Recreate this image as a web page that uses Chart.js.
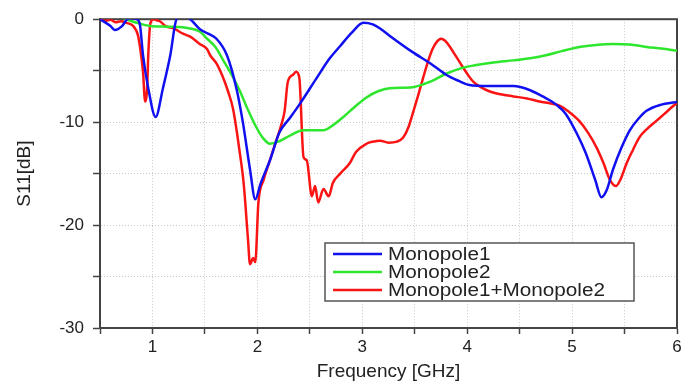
<!DOCTYPE html>
<html>
<head>
<meta charset="utf-8">
<script src="https://cdn.jsdelivr.net/npm/chart.js@4/dist/chart.umd.min.js"></script>
<style>
  html, body { margin: 0; padding: 0; background: #fff; }
  #wrap { width: 695px; height: 386px; }
</style>
</head>
<body>
<div id="wrap"><canvas id="s11-chart" width="695" height="386"></canvas></div>
<script>
/* S11 of the monopoles */

// Monopole1
const freq1 = [0.5, 0.6, 0.64, 0.71, 0.76, 0.8, 0.85, 0.88, 0.91, 0.96, 1.03, 1.10, 1.17, 1.23, 1.3, 1.36,
    1.45, 1.53, 1.61, 1.71, 1.80, 1.86, 1.93, 1.98, 2.03, 2.12, 2.21, 2.31, 2.40, 2.56, 2.69, 2.79,
    2.90, 3.01, 3.10, 3.17, 3.26, 3.48, 3.65, 3.80, 3.92, 4.02, 4.2, 4.44, 4.6, 4.72, 4.85, 4.94,
    5.05, 5.13, 5.22, 5.28, 5.33, 5.39, 5.47, 5.55, 5.63, 5.71, 5.85, 5.96, 6.0];
const s11Mono1 = [0, -0.67, -1.05, -0.67, 0, 0.1, 0, -0.5, -3.5, -6.7, -9.5, -6.7, -3.5, 0, 0.3, 0,
    -0.95, -1.4, -1.9, -3.5, -6.7, -9.9, -14.6, -17.5, -16, -13.7, -11, -9.6, -8.3, -5.8, -3.8, -2.6,
    -1.3, -0.35, -0.5, -0.9, -1.6, -3.2, -4.3, -5.4, -6.0, -6.4, -6.5, -6.5, -6.9, -7.5, -8.3, -9.2,
    -11.2, -13, -15.6, -17.3, -16.6, -14.6, -12.5, -10.8, -9.7, -8.9, -8.3, -8.1, -8.05];

// Monopole2
const freq2 = [0.5, 0.7, 0.75, 0.85, 0.98, 1.1, 1.2, 1.36, 1.45, 1.52, 1.6, 1.67, 1.75, 1.83, 1.91,
    1.99, 2.05, 2.12, 2.2, 2.31, 2.44, 2.55, 2.63, 2.72, 2.82, 2.93, 3.04, 3.15, 3.26, 3.48, 3.64,
    3.80, 3.93, 4.06, 4.25, 4.44, 4.6, 4.75, 4.9, 5.07, 5.23, 5.39, 5.55, 5.71, 5.85, 6.0];
const s11Mono2 = [0.3, 0.2, 0, -0.35, -0.67, -0.72, -0.73, -0.9, -1.2, -1.9, -2.7, -3.9, -5.3, -6.9, -8.8,
    -10.5, -11.5, -12.1, -11.9, -11.3, -10.8, -10.8, -10.8, -10.3, -9.5, -8.5, -7.6, -7.0, -6.7, -6.6, -6.1,
    -5.3, -4.8, -4.5, -4.2, -4.0, -3.8, -3.5, -3.1, -2.7, -2.5, -2.4, -2.45, -2.7, -2.85, -3.05];

// Monopole1+Monopole2
const freq12 = [0.5, 0.55, 0.6, 0.65, 0.7, 0.75, 0.82, 0.86, 0.88, 0.91, 0.93, 0.95, 0.96, 0.98, 1.01,
    1.04, 1.07, 1.13, 1.2, 1.29, 1.36, 1.45, 1.52, 1.55, 1.61, 1.67, 1.72, 1.77, 1.83, 1.87, 1.91,
    1.93, 1.96, 1.98, 2.01, 2.06, 2.12, 2.17, 2.23, 2.26, 2.29, 2.34, 2.37, 2.40, 2.44, 2.47, 2.52,
    2.55, 2.58, 2.63, 2.68, 2.72, 2.79, 2.88, 2.94, 3.04, 3.10, 3.17, 3.25, 3.33, 3.39, 3.44, 3.48,
    3.53, 3.58, 3.63, 3.67, 3.71, 3.75, 3.79, 3.83, 3.88, 3.93, 4.0, 4.06, 4.13, 4.21, 4.32, 4.44,
    4.57, 4.69, 4.8, 4.88, 4.97, 5.07, 5.15, 5.23, 5.3, 5.36, 5.42, 5.46, 5.52, 5.58, 5.64, 5.72,
    5.80, 5.88, 5.98, 6.0];
const s11Mono12 = [0, -0.15, -0.05, -0.3, -0.2, -0.35, -0.7, -1.5, -2.6, -5.1, -8.0, -6.5, -3.5, -0.4, 0,
    -0.1, -0.2, -0.7, -0.9, -1.4, -1.7, -2.4, -2.9, -3.5, -4.3, -5.6, -7.0, -8.8, -12.8, -16, -21.3,
    -23.8, -23.2, -23.6, -17.8, -15.6, -13.7, -12.1, -10.2, -8.9, -6.1, -5.4, -5.1, -5.7, -13.4, -13.7, -17.2,
    -16.2, -17.8, -16.5, -17.2, -15.9, -15.0, -14.0, -12.9, -12.1, -11.9, -11.8, -12.0, -11.9, -11.5, -10.5, -9.2,
    -7.5, -5.7, -4.0, -2.9, -2.2, -1.9, -2.1, -2.6, -3.4, -4.2, -5.3, -6.1, -6.6, -7.0, -7.3, -7.5,
    -7.7, -8.0, -8.2, -8.4, -9.0, -9.9, -11.0, -12.4, -14.0, -15.6, -16.2, -15.6, -14.0, -12.7, -11.5, -10.6,
    -9.9, -9.2, -8.3, -8.2];

const seriesNames = ["Monopole1", "Monopole2", "Monopole1+Monopole2"];
const seriesColors = ['#1010f0', '#2ee62e', '#fa1414'];

function toPoints(xs, ys) {
    return xs.map((x, i) => ({ x: x, y: ys[i] }));
}

const textColor = '#222';
const fontFamily = '"Liberation Sans", Arial, sans-serif';

/* box round the plot, under the curves */
const framePlugin = {
    id: 'frame',
    beforeDatasetsDraw(chart) {
        const a = chart.chartArea, ctx = chart.ctx;
        ctx.save();
        ctx.strokeStyle = '#444';
        ctx.lineWidth = 2;
        ctx.strokeRect(a.left, a.top, a.right - a.left, a.bottom - a.top);
        ctx.restore();
    }
};

/* legend box inside the plot */
const legendPlugin = {
    id: 'boxLegend',
    afterDatasetsDraw(chart) {
        const ctx = chart.ctx;
        const x0 = 325, y0 = 243, w = 309, h = 58;
        ctx.save();
        ctx.fillStyle = '#fff';
        ctx.fillRect(x0, y0, w, h);
        ctx.strokeStyle = '#555';
        ctx.lineWidth = 1.5;
        ctx.strokeRect(x0, y0, w, h);
        ctx.font = '18px ' + fontFamily;
        ctx.textBaseline = 'middle';
        chart.data.datasets.forEach((ds, i) => {
            const y = y0 + 11 + i * 18;
            ctx.strokeStyle = ds.borderColor;
            ctx.lineWidth = 2.5;
            ctx.beginPath();
            ctx.moveTo(x0 + 8, y);
            ctx.lineTo(x0 + 57, y);
            ctx.stroke();
            // the source text is a bit wide, stretch it sideways
            ctx.save();
            ctx.translate(x0 + 63, y + 1);
            ctx.scale(1.15, 1);
            ctx.fillStyle = textColor;
            ctx.fillText(ds.label, 0, 0);
            ctx.restore();
        });
        ctx.restore();
    }
};

const s11Canvas = document.getElementById("s11-chart");

let s11Chart = new Chart(s11Canvas, {
    type: 'line',
    data: {
        datasets: [
            { label: seriesNames[0], data: toPoints(freq1, s11Mono1), borderColor: seriesColors[0] },
            { label: seriesNames[1], data: toPoints(freq2, s11Mono2), borderColor: seriesColors[1] },
            { label: seriesNames[2], data: toPoints(freq12, s11Mono12), borderColor: seriesColors[2] }
        ]
    },
    options: {
        responsive: false,
        animation: false,
        parsing: false,
        layout: { padding: { left: 0, top: 13, right: 18, bottom: 0 } },
        elements: {
            point: { radius: 0 },
            line: { borderWidth: 2.5, cubicInterpolationMode: 'monotone', fill: false }
        },
        scales: {
            x: {
                type: 'linear',
                min: 0.5,
                max: 6,
                afterFit: s => { s.height = 58; },
                ticks: {
                    stepSize: 0.5,
                    autoSkip: false,
                    maxRotation: 0,
                    padding: 3,
                    color: textColor,
                    font: { size: 17, family: fontFamily },
                    callback: v => Number.isInteger(v) ? v : ''
                },
                grid: { color: '#c8c8c8', tickColor: '#444', tickLength: 6, tickWidth: 1.5 },
                border: { color: '#444', width: 2, dash: [1, 2] },
                title: {
                    display: true,
                    text: 'Frequency [GHz]',
                    color: textColor,
                    font: { size: 19, family: fontFamily },
                    padding: { top: 4, bottom: 3 }
                }
            },
            y: {
                min: -30,
                max: 0,
                afterFit: s => { s.width = 100; },
                ticks: {
                    stepSize: 5,
                    autoSkip: false,
                    padding: 9,
                    color: textColor,
                    font: { size: 17, family: fontFamily },
                    callback: v => v % 10 === 0 ? v : ''
                },
                grid: { color: '#c8c8c8', tickColor: '#444', tickLength: 7, tickWidth: 1.5 },
                border: { color: '#444', width: 2, dash: [1, 2] },
                title: {
                    display: true,
                    text: 'S11[dB]',
                    color: textColor,
                    font: { size: 19, family: fontFamily },
                    padding: { top: 13, bottom: 0 }
                }
            }
        },
        plugins: {
            legend: { display: false },
            tooltip: { enabled: false }
        }
    },
    plugins: [framePlugin, legendPlugin]
});
</script>
</body>
</html>
